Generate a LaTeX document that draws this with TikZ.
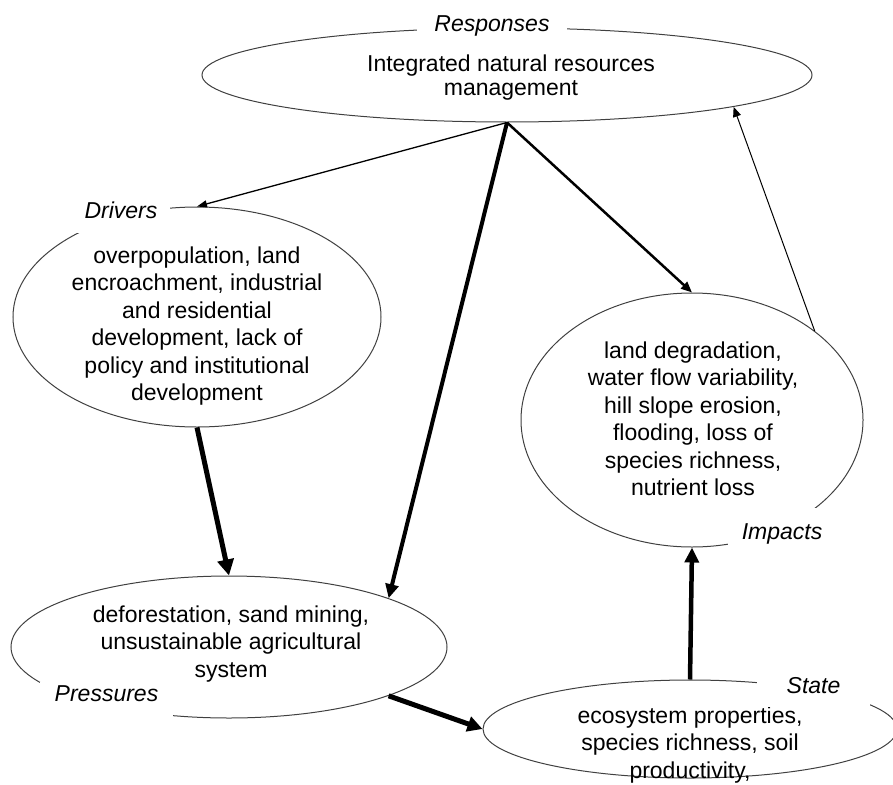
\documentclass[tikz,border=0pt]{standalone}
\usepackage{fontspec}
\setmainfont{Liberation Sans}
\usetikzlibrary{shapes.geometric,arrows.meta}
\begin{document}
\begin{tikzpicture}[x=1pt,y=-1pt,
  every node/.style={font=\fontsize{23}{27.5}\selectfont},
  oval/.style={draw=black!75, line width=1pt, ellipse, inner sep=0pt},
  body/.style={align=center, inner sep=0pt, anchor=base},
  lab/.style={fill=white, inner sep=0pt, anchor=base, font=\fontsize{23}{27.5}\selectfont\itshape},
  con/.style={draw=black}
]
\useasboundingbox (0,0) rectangle (893,784);

% ellipses
\node[oval, minimum width=610pt, minimum height=94pt] (resp) at (507,75) {};
\node[oval, minimum width=368pt, minimum height=220pt] (drv) at (197,317) {};
\node[oval, minimum width=342pt, minimum height=254pt] (imp) at (692,420) {};
\node[oval, minimum width=436pt, minimum height=142pt] (prs) at (229,647) {};
\node[oval, minimum width=414pt, minimum height=98pt] (st) at (690,729) {};

% texts (anchor base = baseline of last line)
\node[body, font=\fontsize{23}{24}\selectfont] (tresp) at (511,95) {Integrated natural resources\\management};
\node[body] (tdrv) at (197,400.5) {overpopulation, land\\encroachment, industrial\\and residential\\development, lack of\\policy and institutional\\development};
\node[body] (timp) at (693,495.5) {land degradation,\\water flow variability,\\hill slope erosion,\\flooding, loss of\\species richness,\\nutrient loss};
\node[body] (tprs) at (231,677) {deforestation, sand mining,\\unsustainable agricultural\\system};
\node[body] (tst) at (690,778) {ecosystem properties,\\species richness, soil\\productivity,};

% labels
\node[lab, minimum width=150pt, text height=17pt, text depth=6pt] (lresp) at (492,32) {Responses};
\node[lab, minimum width=98pt, text height=19pt, text depth=15pt] (ldrv) at (121,218) {Drivers};
\node[lab, minimum width=108pt, text height=31pt, text depth=9pt] (limp) at (782,539) {Impacts};
\node[lab, minimum width=133pt, text height=19pt, text depth=17pt] (lprs) at (106.5,701) {Pressures};
\node[lab, minimum width=113pt, text height=17pt, text depth=14pt] (lst) at (813.5,693) {State};

% connectors
\draw[con, line width=1.3pt, -{Triangle[length=10pt,width=7pt]}] (resp.south) -- (drv.north);
\draw[con, line width=4pt, -{Triangle[length=14pt,width=13pt]}] (resp.south) -- (prs.17.8);
\draw[con, line width=2.5pt, -{Triangle[length=11pt,width=9pt]}] (resp.south) -- (imp.north);
\draw[con, line width=5pt, -{Triangle[length=16pt,width=16pt]}] (drv.south) -- (prs.north);
\draw[con, line width=5pt, -{Triangle[length=15pt,width=15pt]}] (prs.-17.6) -- (st.west);
\draw[con, line width=4.5pt, -{Triangle[length=15pt,width=14pt]}] (st.north) -- (imp.south);
\draw[con, line width=1pt, -{Triangle[length=10pt,width=8pt]}] (imp.36.6) -- (resp.-8.8);
\end{tikzpicture}
\end{document}
